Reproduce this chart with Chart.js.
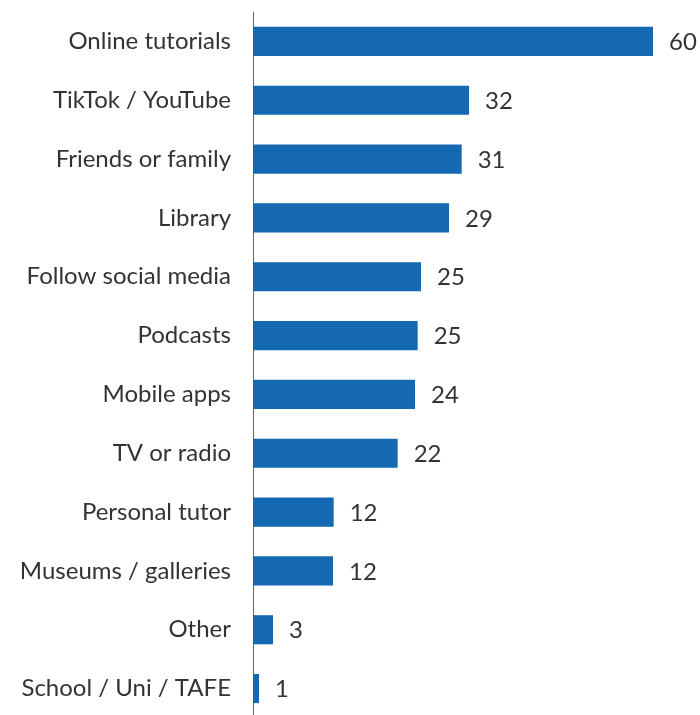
<!DOCTYPE html>
<html>
<head>
<meta charset="utf-8">
<script src="https://cdn.jsdelivr.net/npm/chart.js@4/dist/chart.umd.min.js"></script>
<style>
  html, body { margin: 0; padding: 0; background: #fff; overflow: hidden; }
  #wrap { position: relative; width: 700px; height: 718px; }
</style>
</head>
<body>
<div id="wrap"><canvas id="c"></canvas></div>
<script>
const categories = [
  "Online tutorials", "TikTok / YouTube", "Friends or family", "Library",
  "Follow social media", "Podcasts", "Mobile apps", "TV or radio",
  "Personal tutor", "Museums / galleries", "Other", "School / Uni / TAFE"
];
const values = [60, 32.4, 31.3, 29.4, 25.2, 24.7, 24.3, 21.7, 12.1, 12.0, 3.0, 0.9];
const valueLabels = ["60", "32", "31", "29", "25", "25", "24", "22", "12", "12", "3", "1"];

const FONT = "Lato, 'Noto Sans', sans-serif";
const TEXT = "#333333";

const valueLabelPlugin = {
  id: 'valueLabels',
  afterDatasetsDraw(chart) {
    const ctx = chart.ctx;
    const meta = chart.getDatasetMeta(0);
    ctx.save();
    ctx.font = "24px " + FONT;
    ctx.fillStyle = TEXT;
    ctx.textAlign = 'left';
    ctx.textBaseline = 'middle';
    meta.data.forEach((bar, i) => {
      ctx.fillText(valueLabels[i], bar.x + 16, bar.y + 1);
    });
    ctx.restore();
  }
};

new Chart(document.getElementById('c'), {
  type: 'bar',
  data: {
    labels: categories,
    datasets: [{
      data: values,
      backgroundColor: '#1569B2',
      borderWidth: 0,
      categoryPercentage: 0.5,
      barPercentage: 0.99
    }]
  },
  options: {
    indexAxis: 'y',
    responsive: true,
    maintainAspectRatio: false,
    animation: false,
    layout: { padding: { top: 12, right: 7, bottom: 0, left: 0 } },
    plugins: { legend: { display: false }, tooltip: { enabled: false } },
    scales: {
      x: {
        display: false,
        min: 0,
        max: 66
      },
      y: {
        grid: { display: false, drawTicks: false },
        border: { display: true, color: '#666666', width: 1 },
        ticks: {
          color: TEXT,
          font: { family: FONT, size: 24 },
          padding: 22
        },
        afterFit(scale) {
          scale.width = 253;
          scale.paddingTop = 0;
          scale.paddingBottom = 0;
        }
      }
    }
  },
  plugins: [valueLabelPlugin]
});
</script>
</body>
</html>
